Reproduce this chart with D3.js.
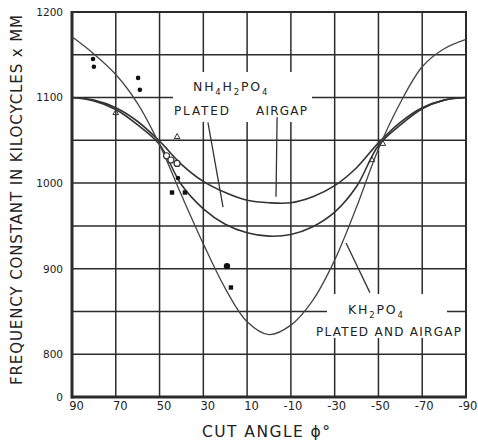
<!DOCTYPE html>
<html>
<head>
<meta charset="utf-8">
<script src="https://cdn.jsdelivr.net/npm/d3@7"></script>
<style>
  html, body { margin: 0; padding: 0; background: #fff; }
  svg { display: block; }
  text { font-family: "DejaVu Sans", sans-serif; fill: #222; }
</style>
</head>
<body>
<svg id="chart" width="478" height="440"></svg>
<script>
// ---- data ----
const angles = [90, 80, 70, 60, 50, 40, 30, 20, 10, 0, -10, -20, -30, -40, -50, -60, -70, -80, -90];
const kdp        = [1171, 1151, 1127, 1093, 1045, 986, 929, 877, 838, 823, 834, 863, 910, 972, 1040, 1094, 1136, 1157, 1168];
const adpAirgap  = [1100, 1097, 1088, 1072, 1049, 1022, 1002, 989, 980, 977, 977, 984, 997, 1018, 1047, 1071, 1088, 1097, 1100];
const adpPlated  = [1100, 1096, 1086, 1068, 1045, 998, 970, 952, 942, 938, 940, 949, 966, 996, 1044, 1068, 1087, 1097, 1100];

const dotPoints      = [[80.4, 1145], [80.0, 1136], [59.8, 1123], [59.0, 1109], [41.6, 1006], [19.2, 903]];
const squarePoints   = [[44.3, 989], [38.4, 989], [17.4, 878]];
const circlePoints   = [[46.8, 1032], [44.8, 1027], [42.0, 1023]];
const trianglePoints = [[70.0, 1082], [42.0, 1054], [-47.0, 1027], [-52.0, 1046]];

const xTicks = [90, 70, 50, 30, 10, -10, -30, -50, -70, -90];
const xGrid  = [90, 70, 50, 30, 10, -10, -30, -50, -70, -90];
const yTicks = [750, 800, 900, 1000, 1100, 1200];
const yTickLabels = ["0", "800", "900", "1000", "1100", "1200"];
const yGrid  = [750, 800, 850, 900, 950, 1000, 1050, 1100, 1150, 1200];

const leaders = [
  [[27.9, 1071], [21.0, 972]],
  [[-3.7, 1077], [-3.2, 984]],
  [[-35.2, 930], [-46.1, 872]]
];

// ---- drawing ----
const svg = d3.select("#chart");
const L = 72, R = 466, T = 12, B = 397;
const x = d3.scaleLinear().domain([90, -90]).range([L, R]);
const y = d3.scaleLinear().domain([750, 1200]).range([B, T]);
const ink = "#2b2b2b";

// grid
const g = svg.append("g");
g.selectAll("line.vg").data(xGrid).join("line")
  .attr("x1", d => x(d)).attr("x2", d => x(d)).attr("y1", T).attr("y2", B)
  .attr("stroke", ink).attr("stroke-width", 1.5);
g.selectAll("line.hg").data(yGrid).join("line")
  .attr("y1", d => y(d)).attr("y2", d => y(d)).attr("x1", L).attr("x2", R)
  .attr("stroke", ink).attr("stroke-width", 1.5);

// white label backgrounds (grid breaks)
svg.append("rect").attr("x", 173).attr("y", 72).attr("width", 139).attr("height", 50).attr("fill", "#fff");
svg.append("rect").attr("x", 327).attr("y", 294).attr("width", 120).attr("height", 44).attr("fill", "#fff");

// frame
svg.append("line").attr("x1", L).attr("x2", L).attr("y1", T - 1).attr("y2", B + 1.5).attr("stroke", ink).attr("stroke-width", 3);
svg.append("line").attr("x1", L - 1).attr("x2", R + 1).attr("y1", B).attr("y2", B).attr("stroke", ink).attr("stroke-width", 3);
svg.append("line").attr("x1", L).attr("x2", R + 1).attr("y1", T).attr("y2", T).attr("stroke", ink).attr("stroke-width", 2);
svg.append("line").attr("x1", R).attr("x2", R).attr("y1", T).attr("y2", B).attr("stroke", ink).attr("stroke-width", 2);

// axes labels via d3 axes
const yAxis = d3.axisLeft(y).tickValues(yTicks).tickSize(0).tickPadding(0)
  .tickFormat((d, i) => yTickLabels[i]);
const ya = svg.append("g").attr("transform", `translate(${L - 9},0)`).call(yAxis);
ya.select(".domain").remove();
ya.selectAll("text").style("font-family", "DejaVu Sans, sans-serif").style("font-size", "10.5px").attr("fill", "#222");

const xAxis = d3.axisBottom(x).tickValues(xTicks).tickSize(0).tickPadding(0)
  .tickFormat(d => d < 0 ? "-" + Math.abs(d) : String(d));
const xa = svg.append("g").attr("transform", `translate(0,${B + 5})`).call(xAxis);
xa.select(".domain").remove();
xa.selectAll("text").style("font-family", "DejaVu Sans, sans-serif").style("font-size", "11.5px")
  .attr("fill", "#222").attr("dx", d => d > 0 ? 4 : 1.5);

// curves
const line = d3.line().x(d => x(d[0])).y(d => y(d[1])).curve(d3.curveCatmullRom.alpha(0.5));
const mk = vals => angles.map((a, i) => [a, vals[i]]);
svg.append("path").attr("d", line(mk(adpPlated))).attr("fill", "none").attr("stroke", "#333").attr("stroke-width", 1.6);
svg.append("path").attr("d", line(mk(adpAirgap))).attr("fill", "none").attr("stroke", "#333").attr("stroke-width", 1.6);
svg.append("path").attr("d", line(mk(kdp))).attr("fill", "none").attr("stroke", "#444").attr("stroke-width", 1.3);

// markers
svg.selectAll("circle.dot").data(dotPoints).join("circle")
  .attr("cx", d => x(d[0])).attr("cy", d => y(d[1])).attr("r", (d, i) => i === 5 ? 3.2 : 2.3).attr("fill", "#111");
svg.selectAll("rect.sq").data(squarePoints).join("rect")
  .attr("x", d => x(d[0]) - 2.2).attr("y", d => y(d[1]) - 2.2).attr("width", 4.4).attr("height", 4.4).attr("fill", "#111");
svg.selectAll("circle.open").data(circlePoints).join("circle")
  .attr("cx", d => x(d[0])).attr("cy", d => y(d[1])).attr("r", 3).attr("fill", "#fff").attr("stroke", "#333").attr("stroke-width", 1.2);
const tri = d3.symbol().type(d3.symbolTriangle).size(14);
svg.selectAll("path.tri").data(trianglePoints).join("path")
  .attr("d", tri).attr("transform", d => `translate(${x(d[0])},${y(d[1])})`)
  .attr("fill", "none").attr("stroke", "#333").attr("stroke-width", 1);

// leader lines
svg.selectAll("line.leader").data(leaders).join("line")
  .attr("x1", d => x(d[0][0])).attr("y1", d => y(d[0][1]))
  .attr("x2", d => x(d[1][0])).attr("y2", d => y(d[1][1]))
  .attr("stroke", "#333").attr("stroke-width", 1.3);

// annotation labels (formula with subscripts)
function chem(xPos, yPos, parts) {
  const t = svg.append("text").attr("x", xPos).attr("y", yPos).style("font-size", "12.5px")
    .style("letter-spacing", "1.8px");
  let shift = 0;
  parts.forEach(p => {
    const sub = /^\d$/.test(p);
    const target = sub ? 3.5 : 0;
    t.append("tspan").attr("dy", target - shift).style("font-size", sub ? "8.5px" : "12.5px").text(p);
    shift = target;
  });
  return t;
}
chem(193, 91, ["NH", "4", "H", "2", "PO", "4"]);
svg.append("text").attr("x", 174).attr("y", 115).style("font-size", "12px").attr("textLength", 55).text("PLATED");
svg.append("text").attr("x", 256).attr("y", 115).style("font-size", "12px").attr("textLength", 51).text("AIRGAP");
chem(348, 314, ["KH", "2", "PO", "4"]);
svg.append("text").attr("x", 316).attr("y", 336).style("font-size", "12px").attr("textLength", 145).text("PLATED AND AIRGAP");

// axis titles
svg.append("text").attr("transform", "translate(22,200) rotate(-90)").attr("text-anchor", "middle")
  .style("font-size", "15px").attr("textLength", 370).text("FREQUENCY CONSTANT IN KILOCYCLES x MM");
svg.append("text").attr("x", 266).attr("y", 437).attr("text-anchor", "middle")
  .style("font-size", "15.5px").attr("textLength", 128).text("CUT ANGLE ϕ°");
</script>
</body>
</html>
